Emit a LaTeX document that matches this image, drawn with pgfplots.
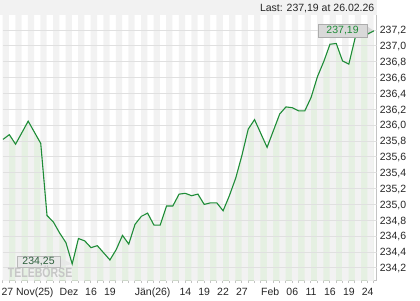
\documentclass[border=0pt]{standalone}
\usepackage{pgfplots}
\pgfplotsset{compat=1.18}
\usepgfplotslibrary{fillbetween}
\usepackage{pgfplotstable}
\usepackage{fontspec}
\setmainfont{Liberation Sans}
\definecolor{linegreen}{RGB}{30,140,55}
\definecolor{fillgreen}{RGB}{212,230,206}
\definecolor{stripe}{RGB}{242,242,242}
\definecolor{gridc}{RGB}{224,224,224}
\definecolor{axisc}{RGB}{195,195,195}
\definecolor{lowtext}{RGB}{45,95,60}

\pgfplotstableread{
d v
0 235.82
1 235.88
2 235.76
4 236.05
6 235.77
7 234.86
8 234.78
9 234.64
10 234.52
11 234.25
12 234.57
13 234.54
14 234.455
15 234.48
17 234.30
18 234.43
19 234.61
20 234.50
21 234.75
22 234.85
23 234.89
24 234.74
25 234.74
26 234.98
27 234.98
28 235.13
29 235.14
30 235.11
31 235.13
32 235.00
33 235.02
34 235.02
35 234.92
36 235.11
37 235.33
38 235.62
39 235.95
40 236.07
42 235.72
43 235.93
44 236.14
45 236.23
46 236.22
47 236.18
48 236.18
49 236.35
50 236.61
51 236.80
52 237.02
53 237.03
54 236.81
55 236.77
56 237.10
57 237.20
58 237.15
59 237.19
}\data

\begin{document}
\begin{tikzpicture}[font=\fontsize{10.5}{12}\selectfont]
\fill[stripe] (0,0) rectangle (376.5pt,-14.5pt);
\node[anchor=base east, inner sep=0pt, text=black!85] at (374.5pt,-11pt) {Last: 237,19 at 26.02.26};
\begin{axis}[
  at={(2.7pt,-280pt)}, anchor=south west, scale only axis,
  width=373.8pt, height=265pt,
  xmin=-0.05, xmax=59.4, ymin=234.047, ymax=237.389,
  axis x line*=bottom, axis y line*=right,
  axis line style={axisc, line width=0.8pt},
  ytick={234.2,234.4,234.6,234.8,235.0,235.2,235.4,235.6,235.8,236.0,236.2,236.4,236.6,236.8,237.0,237.2},
  xtick={3.9,10.5,14,17,23.8,29,32,35,38,42.5,46,49,52,55,58},
  xticklabels={27 Nov(25),Dez,16,19,Jän(26),14,19,22,27,Feb,06,11,16,19,24},
  minor xtick={-0.05,0.95,...,58.95},
  major tick length=0pt, minor tick length=3pt, tick align=outside,
  tick style={axisc, line width=0.8pt},
  /pgf/number format/assume math mode=true,
  yticklabel style={/pgf/number format/fixed, /pgf/number format/fixed zerofill, /pgf/number format/precision=1, /pgf/number format/use comma, /pgf/number format/1000 sep={},
    anchor=base west, inner sep=0pt, xshift=3.2pt, yshift=-3.8pt, text=black!85},
  xticklabel style={anchor=base, inner sep=0pt, yshift=-15pt, text=black!85},
]
\addplot[const plot, fill=stripe, draw=none] coordinates {
(-0.05,234)(-0.05,237.5)(0.95,234)(1.95,237.5)(2.95,234)(3.95,237.5)(4.95,234)(5.95,237.5)(6.95,234)(7.95,237.5)(8.95,234)(9.95,237.5)(10.95,234)(11.95,237.5)(12.95,234)(13.95,237.5)(14.95,234)(15.95,237.5)(16.95,234)(17.95,237.5)(18.95,234)(19.95,237.5)(20.95,234)(21.95,237.5)(22.95,234)(23.95,237.5)(24.95,234)(25.95,237.5)(26.95,234)(27.95,237.5)(28.95,234)(29.95,237.5)(30.95,234)(31.95,237.5)(32.95,234)(33.95,237.5)(34.95,234)(35.95,237.5)(36.95,234)(37.95,237.5)(38.95,234)(39.95,237.5)(40.95,234)(41.95,237.5)(42.95,234)(43.95,237.5)(44.95,234)(45.95,237.5)(46.95,234)(47.95,237.5)(48.95,234)(49.95,237.5)(50.95,234)(51.95,237.5)(52.95,234)(53.95,237.5)(54.95,234)(55.95,237.5)(56.95,234)(57.95,237.5)(58.95,234)
};
\pgfplotsinvokeforeach{234.2,234.4,234.6,234.8,235.0,235.2,235.4,235.6,235.8,236.0,236.2,236.4,236.6,236.8,237.0,237.2}{
  \draw[gridc, line width=0.8pt] (axis cs:-0.05,#1) -- (axis cs:59.4,#1);
}
\addplot[draw=none, name path=price] table[x=d,y=v]{\data};
\path[name path=base] (axis cs:0,234.0) -- (axis cs:59,234.0);
\addplot[fill=fillgreen, fill opacity=0.6, draw=none] fill between[of=price and base];
% callout pointers (under the line)
\fill[gray!30] (axis cs:57.8,237.25) -- (axis cs:59,237.19) -- (axis cs:57.8,237.12) -- cycle;
\fill[gray!18, fill opacity=0.9] (axis cs:9.0,234.33) -- (axis cs:11,234.25) -- (axis cs:9.0,234.21) -- cycle;
\addplot[linegreen, line width=1.1pt] table[x=d,y=v]{\data};
% last value callout
\draw[gray!65, fill=gray!30] (axis cs:50.1,237.272) rectangle (axis cs:57.9,237.108);
\node[text=linegreen, inner sep=0pt] at (axis cs:54,237.19) {237,19};
% low value callout
\draw[gray!55, fill=gray!18, fill opacity=0.9] (axis cs:2.2,234.35) rectangle (axis cs:9.1,234.21);
\node[text=lowtext, inner sep=0pt] at (axis cs:5.65,234.28) {234,25};
\node[text=gray!45, inner sep=0pt, font=\bfseries\fontsize{13.5}{13.5}\selectfont, xscale=0.78] at (axis cs:5.9,234.145) {TELEBÖRSE};
\end{axis}
\path (0,0) rectangle (420pt,-300pt);
\end{tikzpicture}
\end{document}
